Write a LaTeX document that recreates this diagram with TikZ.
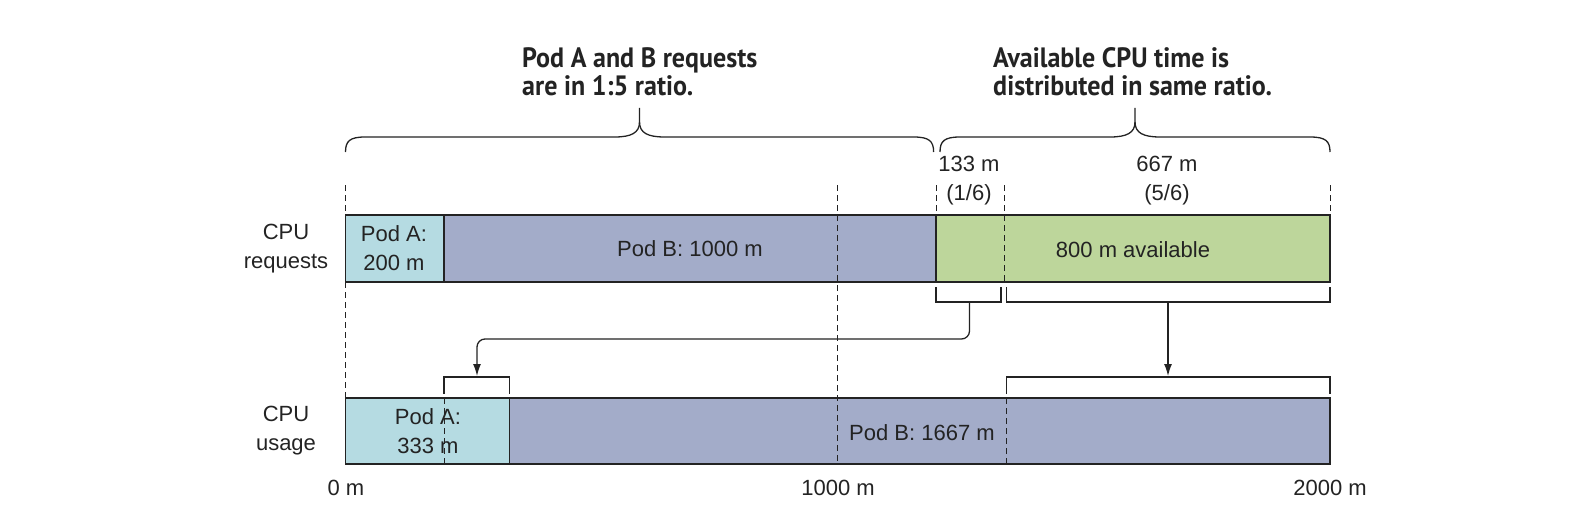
\documentclass[tikz,border=0pt]{standalone}
\usepackage{fontspec}
\setmainfont{Liberation Sans}
\newfontfamily\titlefont{PT Sans}
\usetikzlibrary{arrows.meta}
\definecolor{podA}{RGB}{181,219,226}
\definecolor{podB}{RGB}{163,172,201}
\definecolor{avail}{RGB}{189,214,155}
\definecolor{ink}{RGB}{35,35,35}
\newcommand{\ttltext}[1]{\scalebox{0.93}[1]{\begin{tabular}{@{}l@{}}#1\end{tabular}}}
\begin{document}
\begin{tikzpicture}[x=1pt,y=-1pt,
  lbl/.style={font=\fontsize{22}{29}\selectfont, text=ink, align=center, inner sep=0pt},
  ttl/.style={font=\titlefont\bfseries\fontsize{28}{27.5}\selectfont, text=ink, inner sep=0pt, anchor=west},
  barline/.style={draw=ink, line width=1.5pt},
  dsh/.style={draw=ink, line width=1pt, dash pattern=on 6pt off 4pt},
  brk/.style={draw=ink, line width=1.5pt},
  brc/.style={draw=ink, line width=1.3pt},
  conn/.style={draw=ink, line width=1.3pt, rounded corners=8pt, -{Latex[length=12pt,width=8pt]}}]
\useasboundingbox (0,0) rectangle (1586,524);
% ---- requests bar
\fill[podA] (345.5,215) rectangle (444,282);
\fill[podB] (444,215) rectangle (936.2,282);
\fill[avail] (936.2,215) rectangle (1330,282);
% ---- usage bar
\fill[podA] (345.5,398) rectangle (509.6,464);
\fill[podB] (509.6,398) rectangle (1330,464);
% ---- dashed guide lines
\draw[dsh] (345.5,185) -- (345.5,215);
\draw[dsh] (345.5,282) -- (345.5,398);
\draw[dsh] (837.8,185) -- (837.8,464);
\draw[dsh] (936.2,185) -- (936.2,215);
\draw[dsh] (1004,185) -- (1004,282);
\draw[dsh] (1330,185) -- (1330,215);
\draw[dsh] (444,398) -- (444,464);
\draw[dsh] (1006.5,398) -- (1006.5,464);
% ---- bar outlines
\draw[barline] (345.5,215) rectangle (1330,282);
\draw[barline] (444,215) -- (444,282);
\draw[barline] (936.2,215) -- (936.2,282);
\draw[barline] (345.5,398) rectangle (1330,464);
\draw[barline] (509.6,398) -- (509.6,464);
% ---- brackets
\draw[brk] (936.2,287) -- (936.2,302) -- (1001,302) -- (1001,287);
\draw[brk] (1006.5,287) -- (1006.5,302) -- (1330,302) -- (1330,287);
\draw[brk] (444,394) -- (444,377) -- (509.6,377) -- (509.6,394);
\draw[brk] (1006.5,394) -- (1006.5,377) -- (1330,377) -- (1330,394);
\coordinate (sA) at (969.5,302);
\coordinate (tA) at (477,376);
\coordinate (sB) at (1168,302);
\coordinate (tB) at (1168,376);
\draw[conn] (sA) -- ++(0,37) -| (tA);
\draw[conn] (sB) -- (tB);
% ---- braces
\draw[brc] (345.5,152) .. controls (345.5,141) and (350,137) .. (365,137) -- (614.5,137)
  .. controls (631,137) and (639.5,133) .. (639.5,122) -- (639.5,108);
\draw[brc] (639.5,122) .. controls (639.5,133) and (648,137) .. (664.5,137) -- (913.6,137)
  .. controls (929,137) and (933.6,141) .. (933.6,152);
\draw[brc] (940,152) .. controls (940,141) and (944.5,137) .. (960,137) -- (1110,137)
  .. controls (1126.5,137) and (1135,133) .. (1135,122) -- (1135,108);
\draw[brc] (1135,122) .. controls (1135,133) and (1143.5,137) .. (1160,137) -- (1310,137)
  .. controls (1325.5,137) and (1330,141) .. (1330,152);
% ---- titles
\node[ttl] (t1) at (522,76) {\ttltext{Pod A and B requests\\are in 1:5 ratio.}};
\node[ttl] (t2) at (993,76) {\ttltext{Available CPU time is\\distributed in same ratio.}};
% ---- labels
\node[lbl] (lreq) at (286,249) {CPU\\requests};
\node[lbl] (lusg) at (286,431) {CPU\\usage};
\node[lbl] (pa1) at (394,248) {Pod A:\\200 m};
\node[lbl] (pb1) at (690,249) {Pod B: 1000 m};
\node[lbl] (av) at (1133,250) {800 m available};
\node[lbl] (f1) at (969,181) {133 m\\(1/6)};
\node[lbl] (f2) at (1167,181) {667 m\\(5/6)};
\node[lbl] (pa2) at (428,431) {Pod A:\\333 m};
\node[lbl] (pb2) at (922,433) {Pod B: 1667 m};
\node[lbl] (x0) at (346,488) {0 m};
\node[lbl] (x1) at (838,488) {1000 m};
\node[lbl] (x2) at (1330,488) {2000 m};
\end{tikzpicture}
\end{document}
